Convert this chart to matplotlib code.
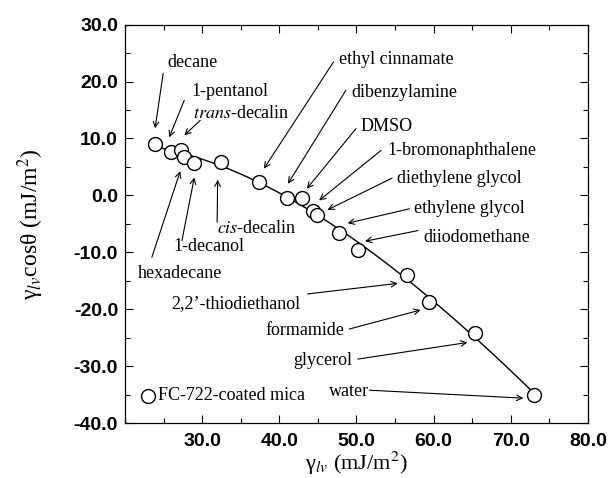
import numpy as np
import matplotlib
matplotlib.use("Agg")
import matplotlib.pyplot as plt
from matplotlib.ticker import MultipleLocator, FormatStrFormatter

plt.rcParams['mathtext.fontset'] = 'stix'

# surface tension of the liquid (mJ/m^2) and gamma*cos(theta) on FC-722-coated mica
liquids = ["decane", "1-pentanol", "trans-decalin", "hexadecane", "1-decanol",
           "cis-decalin", "ethyl cinnamate", "dibenzylamine", "DMSO",
           "1-bromonaphthalene", "diethylene glycol", "ethylene glycol",
           "diiodomethane", "2,2'-thiodiethanol", "formamide", "glycerol", "water"]
gamma_lv = [23.9, 25.9, 27.2, 27.6, 29.0, 32.4, 37.4, 41.0, 42.9,
            44.4, 44.9, 47.8, 50.2, 56.6, 59.4, 65.4, 73.0]
gamma_cos = [9.1, 7.7, 7.9, 6.8, 5.6, 5.9, 2.4, -0.4, -0.5,
             -2.8, -3.4, -6.6, -9.6, -14.0, -18.7, -24.2, -35.0]

x = np.array(gamma_lv)
y = np.array(gamma_cos)

fig = plt.figure(figsize=(6.08, 4.78), dpi=100)
ax = fig.add_axes([0.2056, 0.115, 0.7614, 0.8335])

# smooth fitted curve through the measured points
coef = np.polyfit(x, y, 3)
xf = np.linspace(x.min(), x.max(), 200)
ax.plot(xf, np.polyval(coef, xf), color='black', lw=1.0, zorder=2)
ax.plot(x, y, 'o', ms=10, mfc='white', mec='black', mew=1.0, zorder=3)

ax.set_xlim(20, 80)
ax.set_ylim(-40, 30)
ax.xaxis.set_major_locator(MultipleLocator(10))
ax.xaxis.set_minor_locator(MultipleLocator(5))
ax.yaxis.set_major_locator(MultipleLocator(10))
ax.yaxis.set_minor_locator(MultipleLocator(5))
ax.xaxis.set_major_formatter(FormatStrFormatter('%.1f'))
ax.yaxis.set_major_formatter(FormatStrFormatter('%.1f'))
ax.set_xticks([30, 40, 50, 60, 70, 80])
ax.tick_params(which='both', direction='in', top=True, right=True, width=0.8)
ax.tick_params(which='major', length=6)
ax.tick_params(which='minor', length=3.5)
for lab in ax.get_xticklabels() + ax.get_yticklabels():
    lab.set_family('Liberation Sans')
    lab.set_fontsize(14)
    lab.set_weight('bold')
ax.tick_params(axis='x', pad=7)
ax.tick_params(axis='y', pad=5)
for s in ax.spines.values():
    s.set_linewidth(0.9)

ax.set_xlabel(r'γ$_{lv}$ (mJ/m$^2$)', family='Liberation Serif', fontsize=16, labelpad=0)
ax.set_ylabel(r'γ$_{lv}$cosθ (mJ/m$^2$)', family='Liberation Serif', fontsize=17, labelpad=20)

# labels: (text, text position, arrow tail, arrow head)
notes = [
    ("decane", (25.47, 23.4), (24.95, 21.46), (23.9, 11.78)),
    ("1-pentanol", (28.59, 18.29), (27.68, 16.71), (25.73, 10.19)),
    (r"$\it{trans}$-decalin", (28.85, 14.42), (29.76, 13.19), (27.68, 10.55)),
    ("hexadecane", (21.69, -13.7), (23.48, -10.88), (27.16, 4.26)),
    ("1-decanol", (26.21, -8.94), (27.38, -7.94), (28.98, 3.15)),
    (r"$\it{cis}$-decalin", (31.94, -5.83), (31.94, -4.72), (32.01, 2.75)),
    ("ethyl cinnamate", (47.76, 23.87), (47.03, 23.45), (38.0, 4.68)),
    ("dibenzylamine", (49.29, 17.99), (48.63, 18.47), (41.12, 2.04)),
    ("DMSO", (50.5, 12.13), (49.94, 11.73), (43.56, 1.16)),
    ("1-bromonaphthalene", (54.06, 7.9), (53.19, 7.9), (45.16, -0.9)),
    ("diethylene glycol", (55.27, 3.03), (54.62, 3.03), (46.25, -2.54)),
    ("ethylene glycol", (57.45, -2.36), (56.87, -2.36), (48.86, -4.89)),
    ("diiodomethane", (58.62, -7.46), (57.97, -6.18), (51.11, -8.06)),
    ("2,2\u2019-thiodiethanol", (25.95, -18.98), (43.65, -17.32), (55.36, -15.46)),
    ("formamide", (38.22, -23.79), (49.06, -23.49), (58.31, -20.14)),
    ("glycerol", (41.83, -28.94), (50.16, -28.77), (64.38, -25.85)),
    ("water", (46.38, -34.47), (51.67, -34.23), (71.63, -35.63)),
]
for txt, tpos, tail, head in notes:
    ax.text(tpos[0], tpos[1], txt, family='Liberation Serif', fontsize=13,
            ha='left', va='center')
    ax.annotate('', xy=head, xytext=tail,
                arrowprops=dict(arrowstyle='->', color='black', lw=0.8,
                                shrinkA=0, shrinkB=0))

# legend
ax.plot([23.03], [-35.23], 'o', ms=10, mfc='white', mec='black', mew=1.0)
ax.text(24.3, -35.23, "FC-722-coated mica", family='Liberation Serif',
        fontsize=13, ha='left', va='center')

fig.savefig('out.png', dpi=100)
